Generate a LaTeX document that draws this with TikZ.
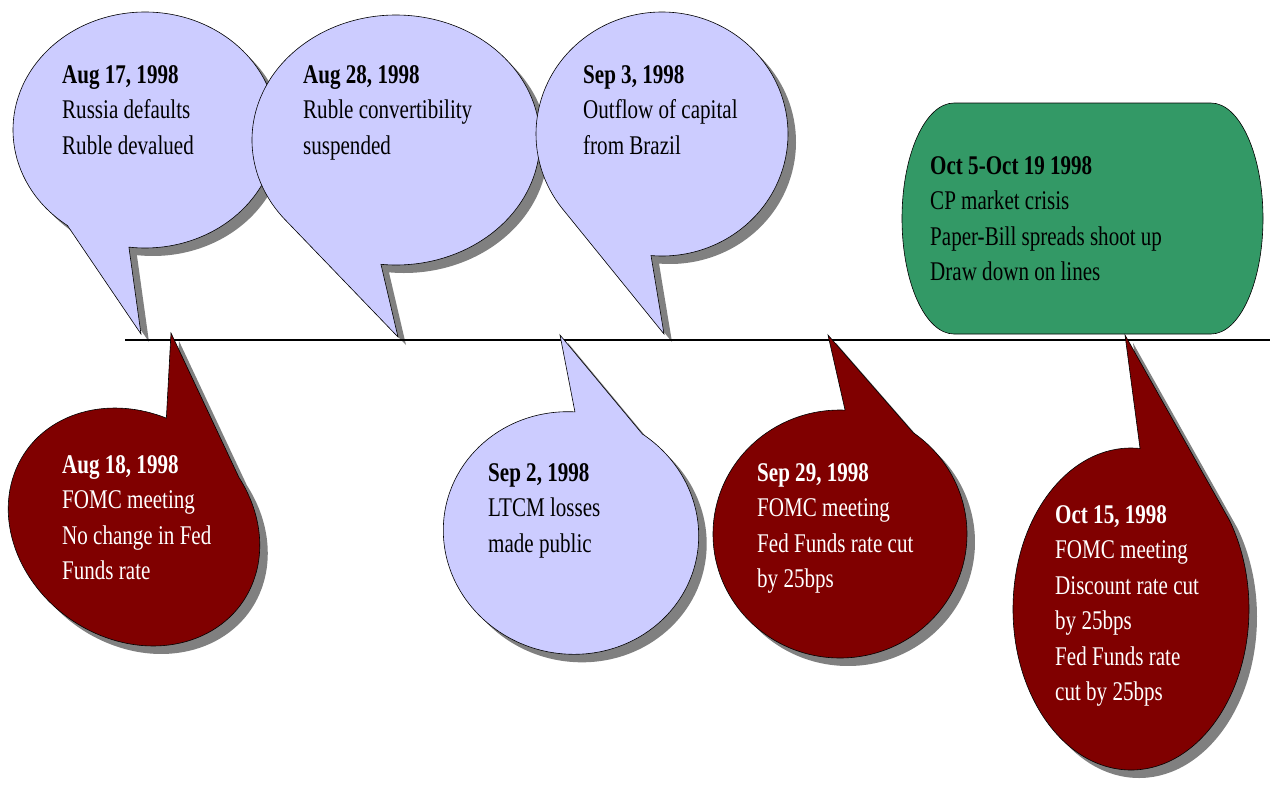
\documentclass[tikz,border=0pt]{standalone}
\usepackage{fontspec}
\setmainfont{Liberation Serif}[FakeStretch=0.78]
\definecolor{cLav}{RGB}{204,204,255}
\definecolor{cRed}{RGB}{128,0,0}
\definecolor{cGreen}{RGB}{51,153,102}
\definecolor{cShadow}{RGB}{128,128,128}
\tikzset{
  lavbubble/.style={fill=cLav, draw=black, line width=0.6pt, line join=miter},
  redbubble/.style={fill=cRed, draw=black, line width=0.6pt, line join=miter},
  shadowfill/.style={fill=cShadow},
  lbl/.style={font=\fontsize{27}{35.5}\selectfont, inner sep=0pt, anchor=base west},
  timeline/.style={draw=black, line width=1.2pt}
}
% #1 style, #2 cx, #3 cy, #4 rotation, #5 rx, #6 ry, #7 start angle, #8 end angle, #9 tip name
\newcommand{\bubble}[9]{%
  \begin{scope}[transform canvas={shift={(8pt,-8pt)}}]
    \begin{scope}[shift={(#2,#3)},rotate=#4]
      \fill[shadowfill] (#7:#5 and #6) arc[start angle=#7,end angle=#8,x radius=#5,y radius=#6] -- (#9) -- cycle;
    \end{scope}
  \end{scope}
  \begin{scope}[shift={(#2,#3)},rotate=#4]
    \filldraw[#1] (#7:#5 and #6) arc[start angle=#7,end angle=#8,x radius=#5,y radius=#6] -- (#9) -- cycle;
  \end{scope}}
\begin{document}
\begin{tikzpicture}[x=1pt,y=-1pt]
\useasboundingbox (0,0) rectangle (1270,788);
\fill[white] (0,0) rectangle (1270,788);

\coordinate (tipA) at (141,334);
\coordinate (tipB) at (398,337);
\coordinate (tipC) at (664,334);
\coordinate (tipD) at (171,333);
\coordinate (tipE) at (560,335);
\coordinate (tipF) at (828,335);
\coordinate (tipG) at (1125,335);
\coordinate (lineL) at (125,340);
\coordinate (lineR) at (1270,340);

% upper callouts
\bubble{lavbubble}{145}{130}{0}{132}{118}{126}{457}{tipA}
\bubble{lavbubble}{396}{140}{0}{144}{125}{139}{456}{tipB}
\bubble{lavbubble}{662}{134}{0}{126}{122}{141}{455}{tipC}

% timeline
\draw[timeline] (lineL) -- (lineR);

% green box
\filldraw[fill=cGreen, draw=black, line width=0.6pt]
  (954,103) -- (1211,103) arc[start angle=-90,end angle=90,x radius=52,y radius=115.5]
  -- (954,334) arc[start angle=90,end angle=270,x radius=52,y radius=115.5] -- cycle;

% lower callouts
\bubble{redbubble}{134}{527}{-35}{132}{112}{254.2}{-64.2}{tipD}
\bubble{lavbubble}{571}{533}{-12}{128}{121}{260.4}{-67.4}{tipE}
\bubble{redbubble}{840}{534}{0}{127}{124}{272.3}{-54.8}{tipF}
\bubble{redbubble}{1131}{609}{0}{118}{161}{274.4}{-33.5}{tipG}

% texts
\node[lbl] (aug17) at (62,83) {\begin{tabular}[t]{@{}l@{}}\textbf{Aug 17, 1998}\\Russia defaults\\Ruble devalued\end{tabular}};
\node[lbl] (aug28) at (303,83) {\begin{tabular}[t]{@{}l@{}}\textbf{Aug 28, 1998}\\Ruble convertibility\\suspended\end{tabular}};
\node[lbl] (sep3) at (583,83) {\begin{tabular}[t]{@{}l@{}}\textbf{Sep 3, 1998}\\Outflow of capital\\from Brazil\end{tabular}};
\node[lbl] (oct5) at (930,174) {\begin{tabular}[t]{@{}l@{}}\textbf{Oct 5-Oct 19 1998}\\CP market crisis\\Paper-Bill spreads shoot up\\Draw down on lines\end{tabular}};
\node[lbl, text=white] (aug18) at (62,473) {\begin{tabular}[t]{@{}l@{}}\textbf{Aug 18, 1998}\\FOMC meeting\\No change in Fed\\Funds rate\end{tabular}};
\node[lbl] (sep2) at (488,481) {\begin{tabular}[t]{@{}l@{}}\textbf{Sep 2, 1998}\\LTCM losses\\made public\end{tabular}};
\node[lbl, text=white] (sep29) at (757,481) {\begin{tabular}[t]{@{}l@{}}\textbf{Sep 29, 1998}\\FOMC meeting\\Fed Funds rate cut\\by 25bps\end{tabular}};
\node[lbl, text=white] (oct15) at (1055,523) {\begin{tabular}[t]{@{}l@{}}\textbf{Oct 15, 1998}\\FOMC meeting\\Discount rate cut\\by 25bps\\Fed Funds rate\\cut by 25bps\end{tabular}};
\end{tikzpicture}
\end{document}
